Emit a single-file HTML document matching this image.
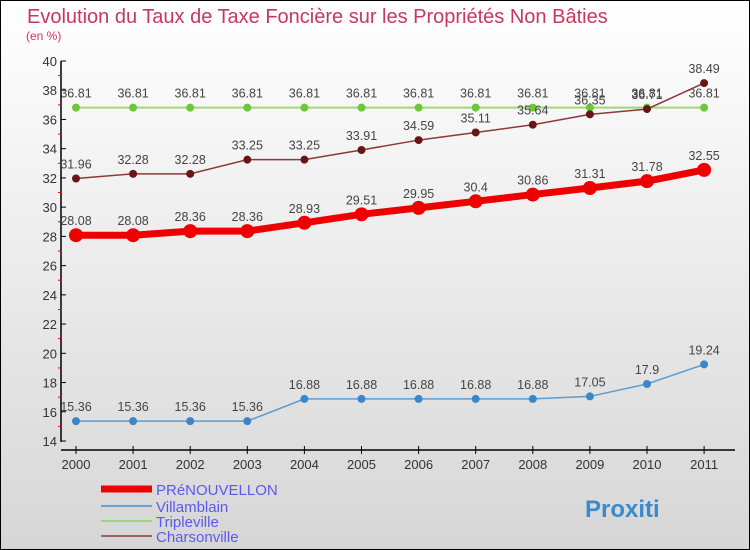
<!DOCTYPE html>
<html><head><meta charset="utf-8"><style>
body{margin:0}
#c{width:750px;height:550px;position:relative;box-sizing:border-box;border:1px solid #000;background:linear-gradient(#ffffff,#d6d6d6);font-family:"Liberation Sans",sans-serif;overflow:hidden}
</style></head><body>
<div id="c">
<svg id="s" width="748" height="548" style="position:absolute;left:0;top:0" font-family="Liberation Sans, sans-serif">
<text x="26" y="22" font-size="20" fill="#c8385c">Evolution du Taux de Taxe Foncière sur les Propriétés Non Bâties</text>
<text x="25" y="39" font-size="12" fill="#c8385c">(en %)</text>
</svg>
</div>
<script>
const years=[2000,2001,2002,2003,2004,2005,2006,2007,2008,2009,2010,2011];
const prenouvellon=[28.08,28.08,28.36,28.36,28.93,29.51,29.95,30.4,30.86,31.31,31.78,32.55];
const villamblain=[15.36,15.36,15.36,15.36,16.88,16.88,16.88,16.88,16.88,17.05,17.9,19.24];
const tripleville=[36.81,36.81,36.81,36.81,36.81,36.81,36.81,36.81,36.81,36.81,36.81,36.81];
const charsonville=[31.96,32.28,32.28,33.25,33.25,33.91,34.59,35.11,35.64,36.35,36.71,38.49];
const yTicks=[14,16,18,20,22,24,26,28,30,32,34,36,38,40];
const NS="http://www.w3.org/2000/svg",s=document.getElementById('s');
const X=i=>75+i*57.1, Y=v=>440-(v-14)*(380/26);
function el(t,a,name,inter){const e=document.createElementNS(NS,t);for(const k in a)e.setAttribute(k,a[k]);


s.appendChild(e);return e;}
el('line',{x1:60,y1:60,x2:60,y2:441,stroke:'#000','stroke-width':1.5},'y-axis');
el('line',{x1:60,y1:449,x2:734,y2:449,stroke:'#000','stroke-width':1.5},'x-axis');
yTicks.forEach(v=>{const y=Y(v);
el('line',{x1:60,y1:y,x2:65,y2:y,stroke:'#000'},'y-tick');
if(v<40)el('line',{x1:57,y1:Y(v+1),x2:61,y2:Y(v+1),stroke:'#e00'},'y-minor-tick');
const t=el('text',{x:56,y:y+5,'font-size':13,fill:'#333','text-anchor':'end'},'y-tick-label');t.textContent=v;});
years.forEach((yr,i)=>{const x=X(i);
el('line',{x1:x,y1:445,x2:x,y2:453,stroke:'#000'},'x-tick');
const t=el('text',{x:x,y:468,'font-size':13,fill:'#333','text-anchor':'middle'},'x-tick-label');t.textContent=yr;});
function series(d,col,dot,w,r,name){
el('polyline',{points:d.map((v,i)=>X(i)+','+Y(v)).join(' '),fill:'none',stroke:col,'stroke-width':w},name+'-line');
d.forEach((v,i)=>{el('circle',{cx:X(i),cy:Y(v),r:r,fill:dot},name+'-point');
const t=el('text',{x:X(i),y:Y(v)-10,'font-size':12.5,fill:'#444','text-anchor':'middle'},name+'-value');t.textContent=v;});}
series(tripleville,'#9fd87a','#6cc83a',2,4,'tripleville');
series(charsonville,'#8b3a3a','#6a1515',1.5,4,'charsonville');
series(villamblain,'#5b9bd0','#3a86c8',1.5,4,'villamblain');
series(prenouvellon,'#ee0000','#ee0000',7,7,'prenouvellon');
const leg=[['PRéNOUVELLON','#ee0000',7],['Villamblain','#6aa3d0',2],['Tripleville','#9fd87a',2],['Charsonville','#9a6060',2]];
const ly=[492,509,524,539];
leg.forEach((l,i)=>{el('line',{x1:100,y1:ly[i]-4,x2:151,y2:ly[i]-4,stroke:l[1],'stroke-width':l[2]},'legend-swatch');
const t=el('text',{x:155,y:ly[i]+2,'font-size':15,fill:'#5a5aee'},'legend-entry');t.textContent=l[0];});
const p=el('text',{x:584,y:516,'font-size':24,'font-weight':'bold',fill:'#3a8ad0'},'proxiti-logo');p.textContent='Proxiti';
</script>
</body></html>
